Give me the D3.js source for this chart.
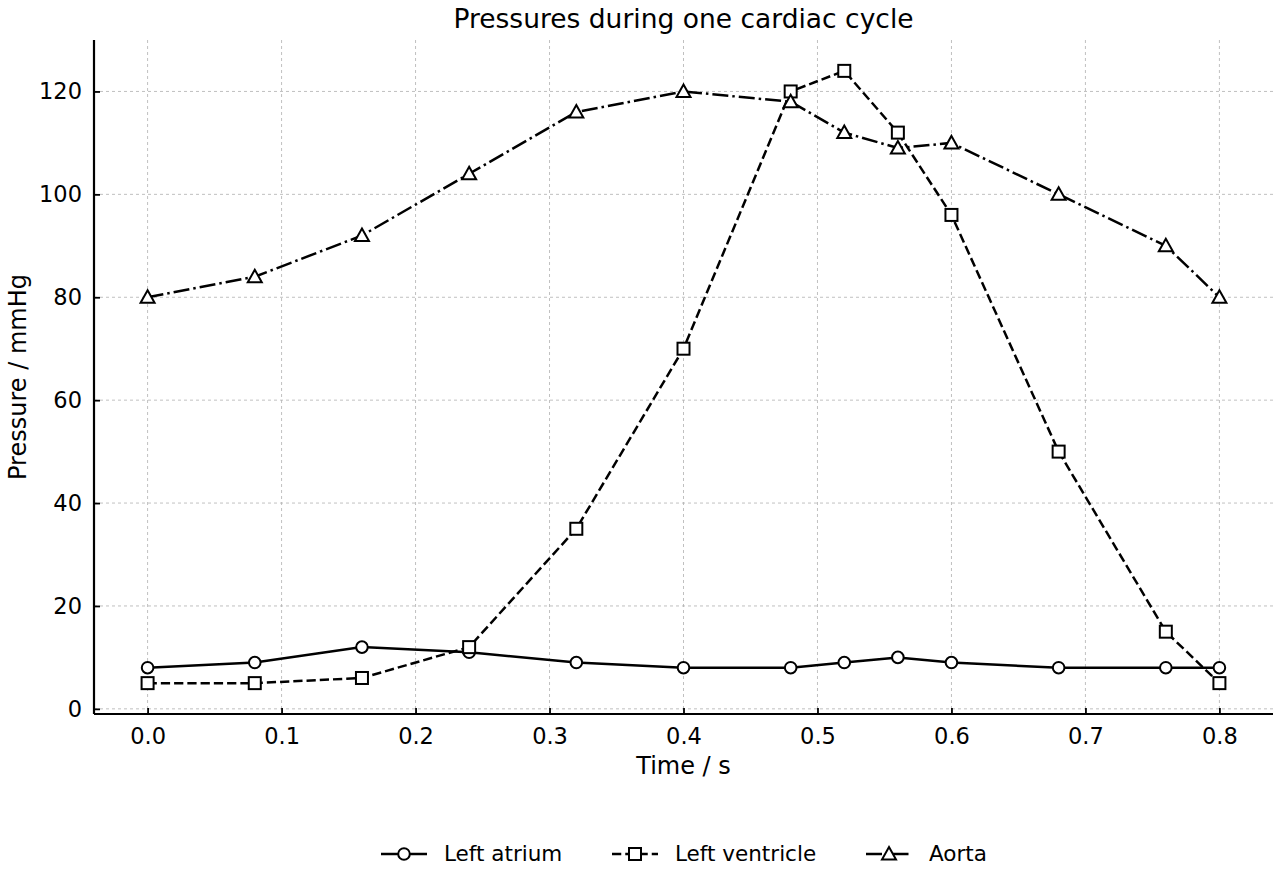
<!DOCTYPE html>
<html>
<head>
<meta charset="utf-8">
<script src="https://cdn.jsdelivr.net/npm/d3@7"></script>
<style>
  body { margin: 0; background: #fff; }
  svg text { font-family: "DejaVu Sans", sans-serif; fill: #000; }
</style>
</head>
<body>
<div id="chart"></div>
<script>
// data
var times = [0.0, 0.08, 0.16, 0.24, 0.32, 0.40, 0.48, 0.52, 0.56, 0.60, 0.68, 0.76, 0.80];
var leftAtrium = [8, 9, 12, 11, 9, 8, 8, 9, 10, 9, 8, 8, 8];
var leftVentricle = [5, 5, 6, 12, 35, 70, 120, 124, 112, 96, 50, 15, 5];
var aorta = [80, 84, 92, 104, 116, 120, 118, 112, 109, 110, 100, 90, 80];
var xTicks = [0.0, 0.1, 0.2, 0.3, 0.4, 0.5, 0.6, 0.7, 0.8];
var yTicks = [0, 20, 40, 60, 80, 100, 120];

var series = [
  { name: "Left atrium", values: leftAtrium, dash: null, marker: "circle" },
  { name: "Left ventricle", values: leftVentricle, dash: "9.25,4", marker: "square" },
  { name: "Aorta", values: aorta, dash: "16,4,2.5,4", marker: "triangle" }
];

var W = 1280, H = 880
	, pLeft = 94, pRight = 1273, pTop = 40, pBottom = 714;

var svg = d3.select("#chart").append("svg")
	.attr("width", W).attr("height", H);

var x = d3.scaleLinear().domain([-0.04, 0.84]).range([pLeft, pRight]);
var y = d3.scaleLinear().domain([-1, 130]).range([pBottom, pTop]);

// --- GRID --- \\
var grid = svg.append("g");
grid.selectAll(".gx").data(xTicks).enter().append("line")
	.attr("x1", function(d) { return x(d); }).attr("x2", function(d) { return x(d); })
	.attr("y1", pTop).attr("y2", pBottom)
	.attr("stroke", "#b0b0b0").attr("stroke-width", 0.8).attr("stroke-dasharray", "3,3");
grid.selectAll(".gy").data(yTicks).enter().append("line")
	.attr("y1", function(d) { return y(d); }).attr("y2", function(d) { return y(d); })
	.attr("x1", pLeft).attr("x2", pRight)
	.attr("stroke", "#b0b0b0").attr("stroke-width", 0.8).attr("stroke-dasharray", "3,3");

// --- AXES --- \\
var xAxis = svg.append("g").attr("transform", "translate(0," + pBottom + ")")
	.call(d3.axisBottom(x).tickValues(xTicks).tickFormat(d3.format(".1f")).tickSizeInner(-6).tickSizeOuter(0).tickPadding(14));
var yAxis = svg.append("g").attr("transform", "translate(" + pLeft + ",0)")
	.call(d3.axisLeft(y).tickValues(yTicks).tickSizeInner(-6).tickSizeOuter(0).tickPadding(12));
[xAxis, yAxis].forEach(function(a) {
	a.attr("font-size", 22.5).attr("font-family", "DejaVu Sans, sans-serif");
	a.select(".domain").attr("stroke", "#000").attr("stroke-width", 2.2);
	a.selectAll(".tick line").attr("stroke", "#000").attr("stroke-width", 1.8);
});
xAxis.select(".domain").attr("d", "M" + pLeft + ",0H" + pRight);
yAxis.select(".domain").attr("d", "M0," + pBottom + "V" + pTop);

// --- LABELS --- \\
svg.append("text").attr("x", (pLeft + pRight) / 2).attr("y", 28)
	.attr("text-anchor", "middle").attr("font-size", 26.5).text("Pressures during one cardiac cycle");
svg.append("text").attr("x", (pLeft + pRight) / 2).attr("y", 774)
	.attr("text-anchor", "middle").attr("font-size", 24).text("Time / s");
svg.append("text").attr("transform", "translate(26," + ((pTop + pBottom) / 2) + ") rotate(-90)")
	.attr("text-anchor", "middle").attr("font-size", 24).text("Pressure / mmHg");

// --- MARKERS --- \\
function drawMarker(g, kind, cx, cy) {
	if (kind === "circle") {
		g.append("circle").attr("cx", cx).attr("cy", cy).attr("r", 5.8);
	} else if (kind === "square") {
		g.append("rect").attr("x", cx - 6).attr("y", cy - 6).attr("width", 12).attr("height", 12);
	} else {
		g.append("path").attr("d", "M" + cx + "," + (cy - 7) + "L" + (cx + 7) + "," + (cy + 5.5) + "L" + (cx - 7) + "," + (cy + 5.5) + "Z");
	}
}

var line = d3.line()
	.x(function(d) { return x(d[0]); })
	.y(function(d) { return y(d[1]); });

series.forEach(function(s) {
	var pts = times.map(function(t, i) { return [t, s.values[i]]; });
	svg.append("path").datum(pts).attr("d", line)
		.attr("fill", "none").attr("stroke", "#000").attr("stroke-width", 2.5)
		.attr("stroke-dasharray", s.dash);
	var mg = svg.append("g").attr("fill", "#fff").attr("stroke", "#000").attr("stroke-width", 2);
	pts.forEach(function(p) { drawMarker(mg, s.marker, x(p[0]), y(p[1])); });
});

// --- LEGEND --- \\
var legendX = [381, 612, 866], legendY = 854;
series.forEach(function(s, i) {
	var g = svg.append("g");
	g.append("line").attr("x1", legendX[i]).attr("x2", legendX[i] + 46)
		.attr("y1", legendY).attr("y2", legendY)
		.attr("stroke", "#000").attr("stroke-width", 2.5).attr("stroke-dasharray", s.dash);
	var mg = g.append("g").attr("fill", "#fff").attr("stroke", "#000").attr("stroke-width", 2);
	drawMarker(mg, s.marker, legendX[i] + 23, legendY);
	g.append("text").attr("x", legendX[i] + 63).attr("y", legendY + 7)
		.attr("font-size", 21.5).text(s.name);
});
</script>
</body>
</html>
